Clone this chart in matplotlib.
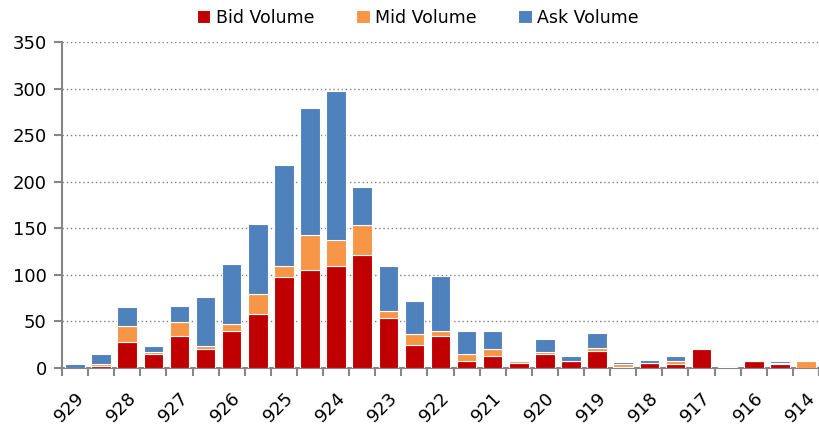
import numpy as np
import matplotlib
matplotlib.use("Agg")
import matplotlib.pyplot as plt

# price levels (only every other level is labelled on the axis)
labels = ["929", "", "928", "", "927", "", "926", "", "925", "", "924", "", "923", "",
          "922", "", "921", "", "920", "", "919", "", "918", "", "917", "", "916", "", "914"]

bid = [0, 2, 28, 15, 34, 20, 40, 58, 98, 105, 110, 121, 54, 25,
       34, 7, 13, 5, 15, 7, 18, 1, 5, 4, 20, 1, 7, 4, 0.5]
mid = [0, 2, 17, 2, 15, 4, 7, 21, 11, 38, 27, 33, 7, 11,
       6, 8, 7, 2, 2, 0, 4, 3, 0, 3, 2, 0, 0.5, 1, 7]
ask = [4, 11, 20, 7, 18, 52, 65, 76, 109, 136, 160, 40, 49, 36,
       59, 25, 20, 2, 14, 6, 16, 2, 4, 6, 0, 0, 0, 2, 0]

bid = np.array(bid)
mid = np.array(mid)
ask = np.array(ask)
x = np.arange(len(labels))

plt.rcParams['font.family'] = ['DejaVu Sans']

fig = plt.figure(figsize=(8.19, 4.26), dpi=100)
ax = fig.add_axes([62/819, 58/426, 757/819, 326/426])

w = 0.75
ax.bar(x, bid, w, color='#C00000', edgecolor='white', linewidth=0.8, label='Bid Volume', zorder=3)
ax.bar(x, mid, w, bottom=bid, color='#F79646', edgecolor='white', linewidth=0.8, label='Mid Volume', zorder=3)
ax.bar(x, ask, w, bottom=bid + mid, color='#4F81BD', edgecolor='white', linewidth=0.8, label='Ask Volume', zorder=3)

ax.set_ylim(0, 350)
ax.set_xlim(-0.5, len(labels) - 0.5)
ax.set_yticks(range(0, 351, 50))
ax.yaxis.grid(True, linestyle=(0, (1, 2)), color='#808080', linewidth=1)

# tick marks between categories, labels under the bars
ax.set_xticks(np.arange(-0.5, len(labels), 1), minor=False)
ax.set_xticklabels([])
ax.set_xticks(x, minor=True)
ax.set_xticklabels(labels, minor=True, rotation=45, ha='right', va='top',
                   rotation_mode='anchor', fontsize=13)
ax.tick_params(axis='x', which='minor', length=0, pad=15)
ax.tick_params(axis='x', which='major', length=6, width=1.5, color='#868686', direction='out')
ax.tick_params(axis='y', length=6, width=1.5, color='#868686', labelsize=13, pad=5)

for s in ['top', 'right']:
    ax.spines[s].set_visible(False)
for s in ['left', 'bottom']:
    ax.spines[s].set_color('#868686')
    ax.spines[s].set_linewidth(1.5)

ax.legend(loc='upper center', bbox_to_anchor=(0.47, 1.15), ncol=3, frameon=False,
          fontsize=12.5, handlelength=0.8, handleheight=0.8, handletextpad=0.3,
          columnspacing=2.4)

fig.savefig("out.png", dpi=100)
